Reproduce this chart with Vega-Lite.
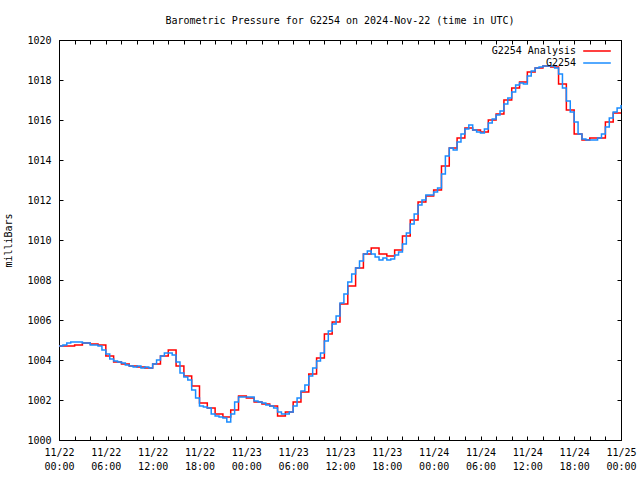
{
  "$schema": "https://vega.github.io/schema/vega-lite/v6.json",
  "width": 562,
  "height": 400,
  "autosize": "none",
  "padding": {"left": 59, "top": 40, "right": 19, "bottom": 40},
  "background": "white",
  "title": {"text": "Barometric Pressure for G2254 on 2024-Nov-22 (time in UTC)", "anchor": "middle", "offset": 9, "font": "DejaVu Sans Mono", "fontSize": 10, "fontWeight": "normal", "color": "black"},
  "config": {
    "view": {"stroke": "black", "strokeWidth": 1},
    "axis": {"domainColor": "black", "tickColor": "black", "labelColor": "black", "titleColor": "black", "labelFont": "DejaVu Sans Mono", "titleFont": "DejaVu Sans Mono", "labelFontSize": 10, "titleFontSize": 10, "titleFontWeight": "normal", "grid": false},
    "legend": {"labelFont": "DejaVu Sans Mono", "labelFontSize": 10, "labelColor": "black"}
  },
  "datasets": {
    "analysis": [
      {"hour": 0, "p": 1004.7, "series": "G2254 Analysis"},
      {"hour": 1, "p": 1004.7, "series": "G2254 Analysis"},
      {"hour": 2, "p": 1004.75, "series": "G2254 Analysis"},
      {"hour": 3, "p": 1004.85, "series": "G2254 Analysis"},
      {"hour": 4, "p": 1004.8, "series": "G2254 Analysis"},
      {"hour": 5, "p": 1004.75, "series": "G2254 Analysis"},
      {"hour": 6, "p": 1004.2, "series": "G2254 Analysis"},
      {"hour": 7, "p": 1003.9, "series": "G2254 Analysis"},
      {"hour": 8, "p": 1003.8, "series": "G2254 Analysis"},
      {"hour": 9, "p": 1003.7, "series": "G2254 Analysis"},
      {"hour": 10, "p": 1003.65, "series": "G2254 Analysis"},
      {"hour": 11, "p": 1003.6, "series": "G2254 Analysis"},
      {"hour": 12, "p": 1003.8, "series": "G2254 Analysis"},
      {"hour": 13, "p": 1004.2, "series": "G2254 Analysis"},
      {"hour": 14, "p": 1004.5, "series": "G2254 Analysis"},
      {"hour": 15, "p": 1003.7, "series": "G2254 Analysis"},
      {"hour": 16, "p": 1003.2, "series": "G2254 Analysis"},
      {"hour": 17, "p": 1002.7, "series": "G2254 Analysis"},
      {"hour": 18, "p": 1001.85, "series": "G2254 Analysis"},
      {"hour": 19, "p": 1001.6, "series": "G2254 Analysis"},
      {"hour": 20, "p": 1001.3, "series": "G2254 Analysis"},
      {"hour": 21, "p": 1001.15, "series": "G2254 Analysis"},
      {"hour": 22, "p": 1001.5, "series": "G2254 Analysis"},
      {"hour": 23, "p": 1002.2, "series": "G2254 Analysis"},
      {"hour": 24, "p": 1002.1, "series": "G2254 Analysis"},
      {"hour": 25, "p": 1001.9, "series": "G2254 Analysis"},
      {"hour": 26, "p": 1001.8, "series": "G2254 Analysis"},
      {"hour": 27, "p": 1001.7, "series": "G2254 Analysis"},
      {"hour": 28, "p": 1001.2, "series": "G2254 Analysis"},
      {"hour": 29, "p": 1001.4, "series": "G2254 Analysis"},
      {"hour": 30, "p": 1001.9, "series": "G2254 Analysis"},
      {"hour": 31, "p": 1002.4, "series": "G2254 Analysis"},
      {"hour": 32, "p": 1003.3, "series": "G2254 Analysis"},
      {"hour": 33, "p": 1004.1, "series": "G2254 Analysis"},
      {"hour": 34, "p": 1005.3, "series": "G2254 Analysis"},
      {"hour": 35, "p": 1005.9, "series": "G2254 Analysis"},
      {"hour": 36, "p": 1006.8, "series": "G2254 Analysis"},
      {"hour": 37, "p": 1007.7, "series": "G2254 Analysis"},
      {"hour": 38, "p": 1008.6, "series": "G2254 Analysis"},
      {"hour": 39, "p": 1009.3, "series": "G2254 Analysis"},
      {"hour": 40, "p": 1009.6, "series": "G2254 Analysis"},
      {"hour": 41, "p": 1009.3, "series": "G2254 Analysis"},
      {"hour": 42, "p": 1009.2, "series": "G2254 Analysis"},
      {"hour": 43, "p": 1009.5, "series": "G2254 Analysis"},
      {"hour": 44, "p": 1010.2, "series": "G2254 Analysis"},
      {"hour": 45, "p": 1011.0, "series": "G2254 Analysis"},
      {"hour": 46, "p": 1011.9, "series": "G2254 Analysis"},
      {"hour": 47, "p": 1012.2, "series": "G2254 Analysis"},
      {"hour": 48, "p": 1012.5, "series": "G2254 Analysis"},
      {"hour": 49, "p": 1013.7, "series": "G2254 Analysis"},
      {"hour": 50, "p": 1014.6, "series": "G2254 Analysis"},
      {"hour": 51, "p": 1015.1, "series": "G2254 Analysis"},
      {"hour": 52, "p": 1015.6, "series": "G2254 Analysis"},
      {"hour": 53, "p": 1015.5, "series": "G2254 Analysis"},
      {"hour": 54, "p": 1015.4, "series": "G2254 Analysis"},
      {"hour": 55, "p": 1016.0, "series": "G2254 Analysis"},
      {"hour": 56, "p": 1016.3, "series": "G2254 Analysis"},
      {"hour": 57, "p": 1017.0, "series": "G2254 Analysis"},
      {"hour": 58, "p": 1017.6, "series": "G2254 Analysis"},
      {"hour": 59, "p": 1017.9, "series": "G2254 Analysis"},
      {"hour": 60, "p": 1018.4, "series": "G2254 Analysis"},
      {"hour": 61, "p": 1018.6, "series": "G2254 Analysis"},
      {"hour": 62, "p": 1018.7, "series": "G2254 Analysis"},
      {"hour": 63, "p": 1018.65, "series": "G2254 Analysis"},
      {"hour": 64, "p": 1017.8, "series": "G2254 Analysis"},
      {"hour": 65, "p": 1016.5, "series": "G2254 Analysis"},
      {"hour": 66, "p": 1015.3, "series": "G2254 Analysis"},
      {"hour": 67, "p": 1015.0, "series": "G2254 Analysis"},
      {"hour": 68, "p": 1015.1, "series": "G2254 Analysis"},
      {"hour": 69, "p": 1015.1, "series": "G2254 Analysis"},
      {"hour": 70, "p": 1015.9, "series": "G2254 Analysis"},
      {"hour": 71, "p": 1016.35, "series": "G2254 Analysis"},
      {"hour": 72, "p": 1016.35, "series": "G2254 Analysis"}
    ],
    "obs": [
      {"hour": 0, "p": 1004.7, "series": "G2254"},
      {"hour": 0.5, "p": 1004.75, "series": "G2254"},
      {"hour": 1, "p": 1004.85, "series": "G2254"},
      {"hour": 1.5, "p": 1004.9, "series": "G2254"},
      {"hour": 2, "p": 1004.9, "series": "G2254"},
      {"hour": 2.5, "p": 1004.9, "series": "G2254"},
      {"hour": 3, "p": 1004.85, "series": "G2254"},
      {"hour": 3.5, "p": 1004.85, "series": "G2254"},
      {"hour": 4, "p": 1004.75, "series": "G2254"},
      {"hour": 4.5, "p": 1004.75, "series": "G2254"},
      {"hour": 5, "p": 1004.7, "series": "G2254"},
      {"hour": 5.5, "p": 1004.5, "series": "G2254"},
      {"hour": 6, "p": 1004.3, "series": "G2254"},
      {"hour": 6.5, "p": 1004.05, "series": "G2254"},
      {"hour": 7, "p": 1003.95, "series": "G2254"},
      {"hour": 7.5, "p": 1003.9, "series": "G2254"},
      {"hour": 8, "p": 1003.85, "series": "G2254"},
      {"hour": 8.5, "p": 1003.75, "series": "G2254"},
      {"hour": 9, "p": 1003.7, "series": "G2254"},
      {"hour": 9.5, "p": 1003.65, "series": "G2254"},
      {"hour": 10, "p": 1003.7, "series": "G2254"},
      {"hour": 10.5, "p": 1003.6, "series": "G2254"},
      {"hour": 11, "p": 1003.65, "series": "G2254"},
      {"hour": 11.5, "p": 1003.6, "series": "G2254"},
      {"hour": 12, "p": 1003.8, "series": "G2254"},
      {"hour": 12.5, "p": 1004.0, "series": "G2254"},
      {"hour": 13, "p": 1004.2, "series": "G2254"},
      {"hour": 13.5, "p": 1004.35, "series": "G2254"},
      {"hour": 14, "p": 1004.35, "series": "G2254"},
      {"hour": 14.5, "p": 1004.25, "series": "G2254"},
      {"hour": 15, "p": 1003.9, "series": "G2254"},
      {"hour": 15.5, "p": 1003.35, "series": "G2254"},
      {"hour": 16, "p": 1003.15, "series": "G2254"},
      {"hour": 16.5, "p": 1003.0, "series": "G2254"},
      {"hour": 17, "p": 1002.5, "series": "G2254"},
      {"hour": 17.5, "p": 1002.1, "series": "G2254"},
      {"hour": 18, "p": 1001.7, "series": "G2254"},
      {"hour": 18.5, "p": 1001.65, "series": "G2254"},
      {"hour": 19, "p": 1001.6, "series": "G2254"},
      {"hour": 19.5, "p": 1001.3, "series": "G2254"},
      {"hour": 20, "p": 1001.2, "series": "G2254"},
      {"hour": 20.5, "p": 1001.15, "series": "G2254"},
      {"hour": 21, "p": 1001.1, "series": "G2254"},
      {"hour": 21.5, "p": 1000.9, "series": "G2254"},
      {"hour": 22, "p": 1001.3, "series": "G2254"},
      {"hour": 22.5, "p": 1001.9, "series": "G2254"},
      {"hour": 23, "p": 1002.15, "series": "G2254"},
      {"hour": 23.5, "p": 1002.15, "series": "G2254"},
      {"hour": 24, "p": 1002.15, "series": "G2254"},
      {"hour": 24.5, "p": 1002.15, "series": "G2254"},
      {"hour": 25, "p": 1001.95, "series": "G2254"},
      {"hour": 25.5, "p": 1001.9, "series": "G2254"},
      {"hour": 26, "p": 1001.85, "series": "G2254"},
      {"hour": 26.5, "p": 1001.75, "series": "G2254"},
      {"hour": 27, "p": 1001.7, "series": "G2254"},
      {"hour": 27.5, "p": 1001.6, "series": "G2254"},
      {"hour": 28, "p": 1001.4, "series": "G2254"},
      {"hour": 28.5, "p": 1001.3, "series": "G2254"},
      {"hour": 29, "p": 1001.3, "series": "G2254"},
      {"hour": 29.5, "p": 1001.4, "series": "G2254"},
      {"hour": 30, "p": 1001.7, "series": "G2254"},
      {"hour": 30.5, "p": 1002.1, "series": "G2254"},
      {"hour": 31, "p": 1002.45, "series": "G2254"},
      {"hour": 31.5, "p": 1002.75, "series": "G2254"},
      {"hour": 32, "p": 1003.2, "series": "G2254"},
      {"hour": 32.5, "p": 1003.6, "series": "G2254"},
      {"hour": 33, "p": 1003.95, "series": "G2254"},
      {"hour": 33.5, "p": 1004.35, "series": "G2254"},
      {"hour": 34, "p": 1004.95, "series": "G2254"},
      {"hour": 34.5, "p": 1005.45, "series": "G2254"},
      {"hour": 35, "p": 1005.8, "series": "G2254"},
      {"hour": 35.5, "p": 1006.2, "series": "G2254"},
      {"hour": 36, "p": 1006.85, "series": "G2254"},
      {"hour": 36.5, "p": 1007.3, "series": "G2254"},
      {"hour": 37, "p": 1007.9, "series": "G2254"},
      {"hour": 37.5, "p": 1008.3, "series": "G2254"},
      {"hour": 38, "p": 1008.6, "series": "G2254"},
      {"hour": 38.5, "p": 1008.95, "series": "G2254"},
      {"hour": 39, "p": 1009.3, "series": "G2254"},
      {"hour": 39.5, "p": 1009.45, "series": "G2254"},
      {"hour": 40, "p": 1009.3, "series": "G2254"},
      {"hour": 40.5, "p": 1009.15, "series": "G2254"},
      {"hour": 41, "p": 1009.0, "series": "G2254"},
      {"hour": 41.5, "p": 1009.1, "series": "G2254"},
      {"hour": 42, "p": 1009.0, "series": "G2254"},
      {"hour": 42.5, "p": 1009.05, "series": "G2254"},
      {"hour": 43, "p": 1009.25, "series": "G2254"},
      {"hour": 43.5, "p": 1009.4, "series": "G2254"},
      {"hour": 44, "p": 1009.8, "series": "G2254"},
      {"hour": 44.5, "p": 1010.35, "series": "G2254"},
      {"hour": 45, "p": 1010.8, "series": "G2254"},
      {"hour": 45.5, "p": 1011.3, "series": "G2254"},
      {"hour": 46, "p": 1011.75, "series": "G2254"},
      {"hour": 46.5, "p": 1012.0, "series": "G2254"},
      {"hour": 47, "p": 1012.25, "series": "G2254"},
      {"hour": 47.5, "p": 1012.25, "series": "G2254"},
      {"hour": 48, "p": 1012.4, "series": "G2254"},
      {"hour": 48.5, "p": 1012.6, "series": "G2254"},
      {"hour": 49, "p": 1013.3, "series": "G2254"},
      {"hour": 49.5, "p": 1014.2, "series": "G2254"},
      {"hour": 50, "p": 1014.6, "series": "G2254"},
      {"hour": 50.5, "p": 1014.5, "series": "G2254"},
      {"hour": 51, "p": 1014.9, "series": "G2254"},
      {"hour": 51.5, "p": 1015.3, "series": "G2254"},
      {"hour": 52, "p": 1015.55, "series": "G2254"},
      {"hour": 52.5, "p": 1015.75, "series": "G2254"},
      {"hour": 53, "p": 1015.5, "series": "G2254"},
      {"hour": 53.5, "p": 1015.4, "series": "G2254"},
      {"hour": 54, "p": 1015.35, "series": "G2254"},
      {"hour": 54.5, "p": 1015.55, "series": "G2254"},
      {"hour": 55, "p": 1015.85, "series": "G2254"},
      {"hour": 55.5, "p": 1016.05, "series": "G2254"},
      {"hour": 56, "p": 1016.25, "series": "G2254"},
      {"hour": 56.5, "p": 1016.45, "series": "G2254"},
      {"hour": 57, "p": 1016.8, "series": "G2254"},
      {"hour": 57.5, "p": 1017.1, "series": "G2254"},
      {"hour": 58, "p": 1017.4, "series": "G2254"},
      {"hour": 58.5, "p": 1017.75, "series": "G2254"},
      {"hour": 59, "p": 1017.85, "series": "G2254"},
      {"hour": 59.5, "p": 1017.8, "series": "G2254"},
      {"hour": 60, "p": 1018.2, "series": "G2254"},
      {"hour": 60.5, "p": 1018.45, "series": "G2254"},
      {"hour": 61, "p": 1018.6, "series": "G2254"},
      {"hour": 61.5, "p": 1018.65, "series": "G2254"},
      {"hour": 62, "p": 1018.7, "series": "G2254"},
      {"hour": 62.5, "p": 1018.7, "series": "G2254"},
      {"hour": 63, "p": 1018.7, "series": "G2254"},
      {"hour": 63.5, "p": 1018.6, "series": "G2254"},
      {"hour": 64, "p": 1018.3, "series": "G2254"},
      {"hour": 64.5, "p": 1017.6, "series": "G2254"},
      {"hour": 65, "p": 1016.95, "series": "G2254"},
      {"hour": 65.5, "p": 1016.4, "series": "G2254"},
      {"hour": 66, "p": 1015.9, "series": "G2254"},
      {"hour": 66.5, "p": 1015.3, "series": "G2254"},
      {"hour": 67, "p": 1015.05, "series": "G2254"},
      {"hour": 67.5, "p": 1015.0, "series": "G2254"},
      {"hour": 68, "p": 1015.0, "series": "G2254"},
      {"hour": 68.5, "p": 1015.0, "series": "G2254"},
      {"hour": 69, "p": 1015.1, "series": "G2254"},
      {"hour": 69.5, "p": 1015.3, "series": "G2254"},
      {"hour": 70, "p": 1015.65, "series": "G2254"},
      {"hour": 70.5, "p": 1016.1, "series": "G2254"},
      {"hour": 71, "p": 1016.4, "series": "G2254"},
      {"hour": 71.5, "p": 1016.6, "series": "G2254"},
      {"hour": 72, "p": 1016.75, "series": "G2254"}
    ]
  },
  "layer": [
    {
      "data": {"name": "analysis"},
      "mark": {"type": "line", "interpolate": "step-after", "strokeWidth": 1.5},
      "encoding": {
        "x": {"field": "hour", "type": "quantitative", "scale": {"domain": [0, 72], "nice": false, "zero": false},
          "axis": {"orient": "bottom", "title": null, "values": [0,2,4,6,8,10,12,14,16,18,20,22,24,26,28,30,32,34,36,38,40,42,44,46,48,50,52,54,56,58,60,62,64,66,68,70,72],
            "labelExpr": "datum.value % 6 == 0 ? ['11/' + (22 + floor(datum.value / 24)), (datum.value % 24 < 10 ? '0' : '') + (datum.value % 24) + ':00'] : ''",
            "labelOverlap": false, "labelFlush": false, "tickSize": -4, "labelPadding": 11, "labelLineHeight": 14, "labelBaseline": "top"}},
        "y": {"field": "p", "type": "quantitative", "scale": {"domain": [1000, 1020], "nice": false, "zero": false},
          "axis": {"orient": "left", "title": "milliBars", "values": [1000,1002,1004,1006,1008,1010,1012,1014,1016,1018,1020], "labelExpr": "datum.value", "tickSize": -4, "labelPadding": 12, "titlePadding": 13}},
        "color": {"field": "series", "type": "nominal", "scale": {"domain": ["G2254 Analysis", "G2254"], "range": ["#ff0000", "#1a8cff"]},
          "legend": {"title": null, "orient": "none", "legendX": 531, "legendY": 4, "symbolType": "M-2.3,0H2.3", "symbolSize": 144, "symbolStrokeWidth": 1.5, "rowPadding": 0, "padding": 0, "labelAlign": "right", "labelOffset": -28}}
      }
    },
    {
      "data": {"name": "obs"},
      "mark": {"type": "line", "interpolate": "step-after", "strokeWidth": 1.5},
      "encoding": {
        "x": {"field": "hour", "type": "quantitative", "scale": {"domain": [0, 72], "nice": false, "zero": false},
          "axis": {"orient": "top", "title": null, "values": [0,2,4,6,8,10,12,14,16,18,20,22,24,26,28,30,32,34,36,38,40,42,44,46,48,50,52,54,56,58,60,62,64,66,68,70,72], "labels": false, "tickSize": -4}},
        "y": {"field": "p", "type": "quantitative", "scale": {"domain": [1000, 1020], "nice": false, "zero": false},
          "axis": {"orient": "right", "title": null, "values": [1000,1002,1004,1006,1008,1010,1012,1014,1016,1018,1020], "labels": false, "tickSize": -4}},
        "color": {"field": "series", "type": "nominal"}
      }
    }
  ],
  "resolve": {"axis": {"x": "independent", "y": "independent"}}
}
